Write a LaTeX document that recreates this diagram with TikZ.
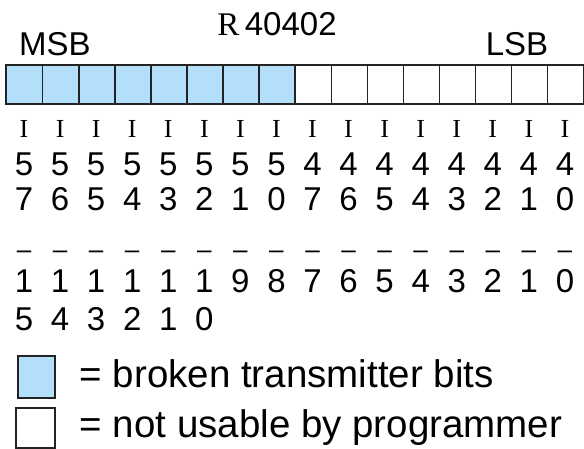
\documentclass[tikz,border=0pt]{standalone}
\usepackage{fontspec}
\setmainfont{Liberation Sans}
\newfontfamily\serifpart{Liberation Serif}

\definecolor{bitblue}{RGB}{179,223,251}
\definecolor{bitline}{RGB}{35,35,35}

\tikzset{
    bitcell/.style={draw=bitline, line width=1.4pt, minimum width=36.06pt,
        minimum height=38pt, inner sep=0pt, anchor=north west},
    bitnum/.style={font=\fontsize{33}{33}\selectfont, anchor=base, inner sep=0pt},
    ionum/.style={font=\fontsize{26}{26}\selectfont\serifpart, anchor=base, inner sep=0pt},
    keybox/.style={draw=bitline, line width=2pt, inner sep=0pt, anchor=north west},
    keytext/.style={font=\fontsize{38.5}{38.5}\selectfont, anchor=base west, inner sep=0pt}
}

\begin{document}
\begin{tikzpicture}[x=1pt,y=-1pt]
\useasboundingbox (0,0) rectangle (584,448);

\node[bitnum] (msb) at (55,55) {MSB};
        \node[bitnum] (lsb) at (517,55) {LSB};
        \node[bitnum] (reg) at (277,35) {{\serifpart R}\,40402};

% the register
\foreach \i in {0,...,7}
    \node[bitcell, fill=bitblue] (cell\i) at (6+36.06*\i,65) {};
\foreach \i in {8,...,15}
    \node[bitcell, fill=white] (cell\i) at (6+36.06*\i,65) {};
\draw[draw=bitline, line width=2pt] (cell0.north west) rectangle (cell15.south east);

% bit numbers
\foreach \i in {0,...,15}{
    \pgfmathsetmacro\cx{24.03+36.06*\i}
    \pgfmathtruncatemacro\hi{\i<8 ? 5 : 4}
    \pgfmathtruncatemacro\lo{mod(23-\i,8)}
    \pgfmathtruncatemacro\bit{15-\i}
    \pgfmathtruncatemacro\tens{\bit>9 ? 1 : \bit}
    \node[ionum] (io\i) at (\cx,137) {I};
    \node[bitnum] (hi\i) at (\cx,175) {\hi};
    \node[bitnum] (lo\i) at (\cx,210) {\lo};
    \node[bitnum, font=\fontsize{26}{26}\selectfont] (dash\i) at (\cx,258) {\textendash};
    \node[bitnum] (tens\i) at (\cx,292) {\tens};
}
\foreach \i in {0,...,5}{
    \pgfmathsetmacro\cx{24.03+36.06*\i}
    \pgfmathtruncatemacro\ones{5-\i}
    \node[bitnum] (ones\i) at (\cx,330) {\ones};
}

% key
\node[keybox, fill=bitblue, minimum width=37pt, minimum height=42pt] (keyblue) at (17,355) {};
\node[keybox, fill=white, minimum width=39pt, minimum height=40pt] (keywhite) at (15,407) {};
\node[keytext] (keybluetext) at (79.5,387) {= broken transmitter bits};
\node[keytext] (keywhitetext) at (79.5,437) {= not usable by programmer};
\end{tikzpicture}
\end{document}
